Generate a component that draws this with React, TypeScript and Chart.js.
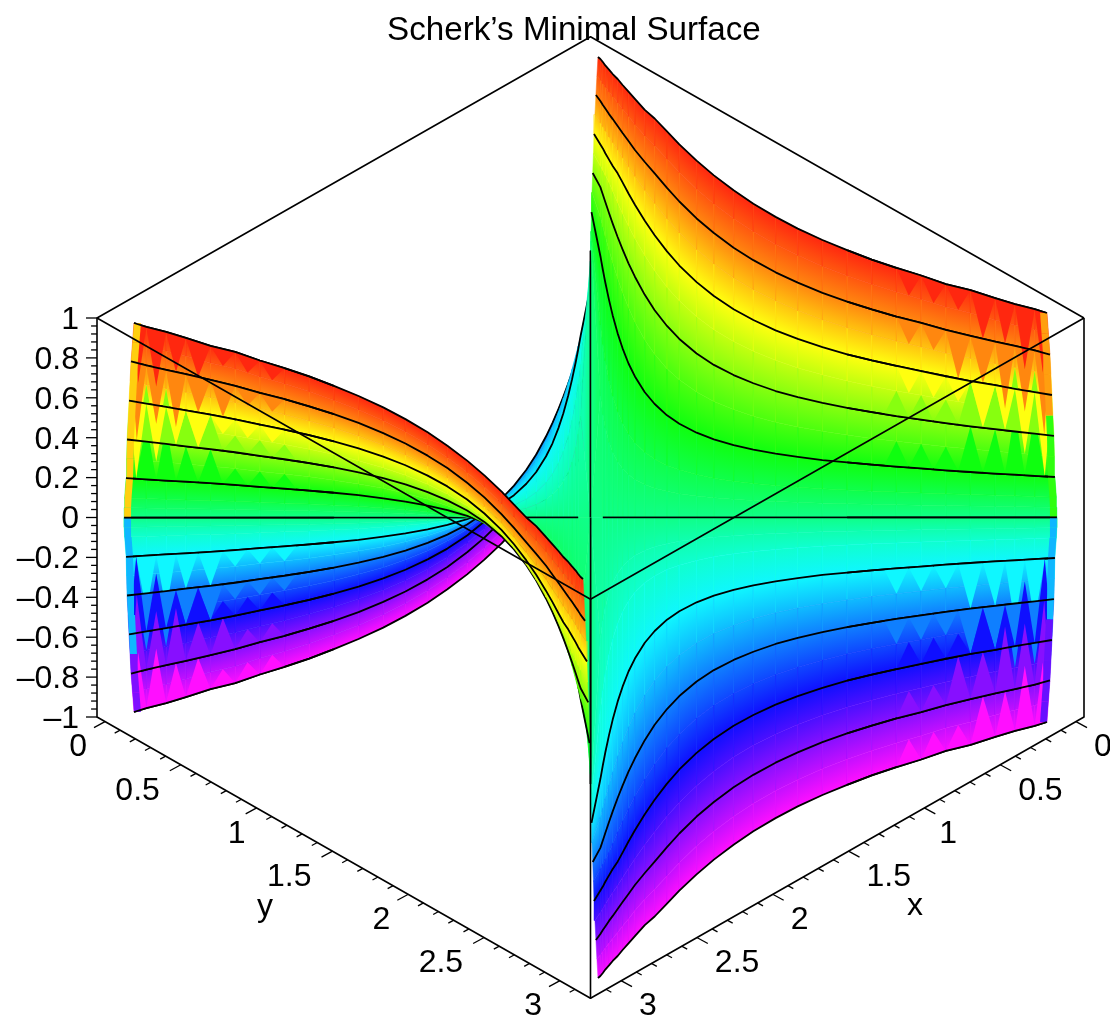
import { useEffect, useRef } from 'react';
import { Chart, registerables } from 'chart.js';

Chart.register(...registerables);

// ---- data -----------------------------------------------------------------
// Contour heights of the surface (|z|), finest near the z = 0 plane.
const levels = [0, 0.05, 0.1, 0.2, 0.3, 0.4, 0.5, 0.6, 0.7, 0.8, 0.9, 1];
const inkedLevels = [0, 0.2, 0.4, 0.6, 0.8, 1];
const upperHues = [150, 142.5, 135, 120, 105, 90, 75, 60, 45, 30, 18, 6];
const lowerHues = [150, 160, 168, 182, 197, 212, 226, 240, 255, 270, 285, 300];

// Horizontal stations on the plot (-1 .. 1 across the box).
const stationU = [0.02, 0.025, 0.03, 0.0375, 0.045, 0.055, 0.065, 0.077, 0.09, 0.11, 0.13, 0.155, 0.18, 0.215, 0.25, 0.29, 0.33, 0.375, 0.42, 0.47, 0.52, 0.57, 0.62, 0.67, 0.72, 0.77, 0.82, 0.86, 0.9];

// Depth of each contour at each station (z-axis units of vertical screen shift).
const depth000 = [0, 0, 0, 0, 0, 0, 0, 0, 0, 0, 0, 0, 0, 0, 0, 0, 0, 0, 0, 0, 0, 0, 0, 0, 0, 0, 0, 0, 0];
const depth005 = [0.559, 0.468, 0.401, 0.328, 0.277, 0.229, 0.195, 0.165, 0.141, 0.115, 0.097, 0.081, 0.069, 0.058, 0.049, 0.041, 0.035, 0.03, 0.026, 0.022, 0.019, 0.016, 0.014, 0.012, 0.01, 0.008, 0.006, 0.005, 0.003];
const depth010 = [0.865, 0.768, 0.686, 0.587, 0.509, 0.431, 0.373, 0.319, 0.275, 0.227, 0.193, 0.161, 0.139, 0.115, 0.097, 0.082, 0.071, 0.061, 0.052, 0.044, 0.038, 0.032, 0.028, 0.023, 0.019, 0.015, 0.012, 0.009, 0.005];
const depth020 = [1.111, 1.042, 0.978, 0.891, 0.813, 0.723, 0.648, 0.572, 0.507, 0.428, 0.369, 0.312, 0.27, 0.225, 0.192, 0.163, 0.14, 0.12, 0.104, 0.088, 0.076, 0.065, 0.055, 0.046, 0.036, 0.028, 0.02, 0.015, 0.009];
const depth030 = [1.206, 1.157, 1.11, 1.041, 0.977, 0.898, 0.827, 0.751, 0.68, 0.59, 0.518, 0.446, 0.39, 0.329, 0.282, 0.241, 0.208, 0.178, 0.154, 0.132, 0.113, 0.096, 0.082, 0.069, 0.055, 0.043, 0.032, 0.023, 0.015];
const depth040 = [1.256, 1.219, 1.181, 1.126, 1.073, 1.006, 0.944, 0.874, 0.807, 0.716, 0.639, 0.56, 0.495, 0.422, 0.365, 0.314, 0.273, 0.234, 0.203, 0.174, 0.149, 0.128, 0.108, 0.091, 0.073, 0.057, 0.043, 0.031, 0.02];
const depth050 = [1.262, 1.24, 1.215, 1.18, 1.135, 1.078, 1.023, 0.961, 0.899, 0.813, 0.737, 0.654, 0.586, 0.506, 0.441, 0.382, 0.333, 0.288, 0.25, 0.215, 0.184, 0.158, 0.134, 0.113, 0.09, 0.072, 0.054, 0.038, 0.025];
const depth060 = [1.27, 1.25, 1.226, 1.194, 1.162, 1.125, 1.08, 1.024, 0.968, 0.887, 0.815, 0.734, 0.663, 0.58, 0.51, 0.444, 0.39, 0.338, 0.295, 0.254, 0.218, 0.187, 0.16, 0.134, 0.108, 0.084, 0.063, 0.045, 0.029];
const depth070 = [1.28, 1.26, 1.238, 1.208, 1.18, 1.144, 1.104, 1.06, 1.01, 0.94, 0.875, 0.798, 0.728, 0.644, 0.572, 0.501, 0.442, 0.386, 0.337, 0.291, 0.251, 0.216, 0.184, 0.155, 0.124, 0.098, 0.072, 0.053, 0.034];
const depth080 = [1.288, 1.268, 1.25, 1.222, 1.197, 1.162, 1.127, 1.087, 1.042, 0.982, 0.925, 0.852, 0.784, 0.699, 0.626, 0.552, 0.49, 0.429, 0.377, 0.326, 0.282, 0.243, 0.207, 0.175, 0.14, 0.11, 0.081, 0.06, 0.038];
const depth090 = [1.293, 1.276, 1.258, 1.234, 1.21, 1.18, 1.148, 1.112, 1.07, 1.014, 0.963, 0.897, 0.831, 0.747, 0.673, 0.599, 0.534, 0.47, 0.414, 0.36, 0.312, 0.269, 0.23, 0.194, 0.155, 0.125, 0.09, 0.065, 0.042];
const depth100 = [1.298, 1.283, 1.266, 1.245, 1.223, 1.198, 1.168, 1.135, 1.098, 1.043, 1.0, 0.935, 0.87, 0.789, 0.715, 0.64, 0.573, 0.507, 0.448, 0.391, 0.34, 0.293, 0.251, 0.213, 0.17, 0.14, 0.1, 0.07, 0.045];
const depthTable = [depth000, depth005, depth010, depth020, depth030, depth040, depth050, depth060, depth070, depth080, depth090, depth100];

// Ends of each contour: at the centre column and at the outer rim.
const centerRimU = [0, 0.0005, 0.001, 0.002, 0.003, 0.0045, 0.006, 0.0071, 0.009, 0.011, 0.013, 0.0152];
const centerRimDepth = [1.336, 1.335, 1.334, 1.331, 1.329, 1.327, 1.325, 1.322, 1.32, 1.318, 1.313, 1.308];
const outerRimU = [0.945, 0.945, 0.944, 0.941, 0.94, 0.939, 0.937, 0.935, 0.933, 0.931, 0.928, 0.925];
const outerRimDepth = [0, 0.001, 0.002, 0.003, 0.006, 0.009, 0.011, 0.014, 0.016, 0.017, 0.021, 0.025];

// Saw-tooth facets near the rim: the level a tooth grows from, and the level each of
// the outer mesh columns reaches (inner column first).
const toothBaseLevels = [3, 5, 7, 9, 11];
const toothReach3 = [4, 4, 4, 5, 5, 6, 6];
const toothReach5 = [6, 6, 6, 7, 7, 8, 8];
const toothReach7 = [6, 6, 6, 5, 5, 4, 3];
const toothReach9 = [8, 8, 7, 7, 6, 6, 5];
const toothReach11 = [10, 10, 10, 9, 9, 8, 8];
const toothReaches = [toothReach3, toothReach5, toothReach7, toothReach9, toothReach11];

// Hue of the narrow strip along each rim, one value per band between levels.
const rimHuesLeftUpper = [48, 48, 48, 48, 48, 48, 48, 48, 48, 48, 48];
const rimHuesRightUpper = [112, 112, 112, 112, 112, 112, 36, 36, 36, 36, 36];
const rimHuesLeftLower = [198, 198, 198, 198, 198, 198, 198, 198, 268, 268, 268];
const rimHuesRightLower = [198, 198, 198, 198, 198, 198, 262, 262, 262, 262, 262];

// Box: [u, v] corners of the edges behind and in front of the surface.
const backEdges = [[[-1, 1], [0, 2.41], [1, 1]]];
const frontEdges = [
  [[-1, 1], [-1, -1], [0, -2.41], [1, -1], [1, 1]],
  [[-1, 1], [0, -0.41], [1, 1]],
  [[0, -0.41], [0, -2.41]],
];

const zTickLabels = [1, 0.8, 0.6, 0.4, 0.2, 0, -0.2, -0.4, -0.6, -0.8, -1];
const zMinorTicks = [
  0.96, 0.92, 0.88, 0.84, 0.76, 0.72, 0.68, 0.64, 0.56, 0.52, 0.48, 0.44, 0.36, 0.32, 0.28, 0.24, 0.16, 0.12, 0.08, 0.04,
  -0.04, -0.08, -0.12, -0.16, -0.24, -0.28, -0.32, -0.36, -0.44, -0.48, -0.52, -0.56, -0.64, -0.68, -0.72, -0.76, -0.84, -0.88, -0.92, -0.96,
];
const groundMajorTicks = [0, 0.5, 1, 1.5, 2, 2.5, 3];
const groundMinorTicks = [0.1, 0.2, 0.3, 0.4, 0.6, 0.7, 0.8, 0.9, 1.1, 1.2, 1.3, 1.4, 1.6, 1.7, 1.8, 1.9, 2.1, 2.2, 2.3, 2.4, 2.6, 2.7, 2.8, 2.9, 3.1];
const groundTickLabels = ['0', '0.5', '1', '1.5', '2', '2.5', '3'];

const titleText = 'Scherk\u2019s Minimal Surface';

// ---- geometry of the view --------------------------------------------------
const W = 1110;
const H = 1021;
const CX = 590.5;
const UNIT_U = 493.5;
const CY = 517.5;
const UNIT_V = 199.5;
const FONT = '"Liberation Sans", Arial, sans-serif';
const FIRST_TOOTH_COLUMN = 23;
const RIM_STRIP_WIDTH = 0.014;
const ZERO_LINE_WIDTH = 1.5;

type Pt = { x: number; y: number };
type Sheet = { mirror: number; zSign: number; depthSign: number; hues: number[]; rimHues: number[]; ascending: boolean };

const sheetsInPaintOrder: Sheet[] = [
  { mirror: -1, zSign: -1, depthSign: 1, hues: lowerHues, rimHues: rimHuesLeftLower, ascending: false },
  { mirror: 1, zSign: 1, depthSign: 1, hues: upperHues, rimHues: rimHuesRightUpper, ascending: true },
  { mirror: 1, zSign: -1, depthSign: -1, hues: lowerHues, rimHues: rimHuesRightLower, ascending: true },
  { mirror: -1, zSign: 1, depthSign: -1, hues: upperHues, rimHues: rimHuesLeftUpper, ascending: true },
];

function meshPoint(s: Sheet, k: number, j: number): Pt {
  let u: number;
  let d: number;
  if (j === 0) {
    u = centerRimU[k];
    d = centerRimDepth[k];
  } else if (j === stationU.length + 1) {
    u = outerRimU[k];
    d = outerRimDepth[k];
  } else {
    u = k === 0 && j === 1 ? 0 : stationU[j - 1];
    d = depthTable[k][j - 1];
  }
  return { x: s.mirror * u, y: s.zSign * levels[k] + s.depthSign * d };
}

const midPoint = (p: Pt, q: Pt): Pt => ({ x: (p.x + q.x) / 2, y: (p.y + q.y) / 2 });
const meshMid = (s: Sheet, k: number, j: number) => midPoint(meshPoint(s, k, j), meshPoint(s, k, j + 1));

const hsl = (h: number) => `hsl(${h}, 100%, 53%)`;

// Gradient end points only: the canvas is a fixed size, and the gradient is a fill style.
const toPixel = (p: Pt) => ({ x: CX + UNIT_U * p.x, y: CY - UNIT_V * p.y });

function bandDataset(s: Sheet, k: number, j: number) {
  const a = meshPoint(s, k, j);
  const b = meshPoint(s, k, j + 1);
  const c = meshPoint(s, k + 1, j + 1);
  const d = meshPoint(s, k + 1, j);
  const lo = hsl(s.hues[k]);
  const hi = hsl(s.hues[k + 1]);
  return {
    data: [a, b, c, d, a],
    showLine: true,
    fill: 'shape',
    pointRadius: 0,
    tension: 0,
    clip: false,
    borderWidth: 0.5,
    borderJoinStyle: 'round',
    borderColor: hsl((s.hues[k] + s.hues[k + 1]) / 2),
    backgroundColor: (ctx: any) => {
      const A = toPixel(a);
      const B = toPixel(b);
      const C = toPixel(c);
      const D = toPixel(d);
      const m0 = { x: (A.x + B.x) / 2, y: (A.y + B.y) / 2 };
      const m1 = { x: (C.x + D.x) / 2, y: (C.y + D.y) / 2 };
      let tx = B.x - A.x + C.x - D.x;
      let ty = B.y - A.y + C.y - D.y;
      const len = Math.hypot(tx, ty) || 1;
      tx /= len;
      ty /= len;
      const nx = -ty;
      const ny = tx;
      const proj = (m1.x - m0.x) * nx + (m1.y - m0.y) * ny;
      const end = Math.abs(proj) < 0.5 ? m1 : { x: m0.x + nx * proj, y: m0.y + ny * proj };
      const g = ctx.chart.ctx.createLinearGradient(m0.x, m0.y, end.x, end.y);
      g.addColorStop(0, lo);
      g.addColorStop(1, hi);
      return g;
    },
  };
}

function facetDataset(points: Pt[], hue: number) {
  return {
    data: [...points, points[0]],
    showLine: true,
    fill: 'shape',
    pointRadius: 0,
    tension: 0,
    clip: false,
    borderWidth: 0,
    borderColor: 'transparent',
    backgroundColor: hsl(hue),
  };
}

function rimFacets(s: Sheet) {
  const out: any[] = [];
  toothBaseLevels.forEach((base, tier) => {
    toothReaches[tier].forEach((tip, i) => {
      const j = FIRST_TOOTH_COLUMN + i;
      if (tip > base) {
        // a tooth growing away from the z = 0 plane, offset by half a column
        if (j + 1 <= stationU.length + 1) {
          out.push(facetDataset([meshMid(s, base, j - 1), meshMid(s, base, j), meshPoint(s, tip, j)], s.hues[base]));
        }
      } else {
        out.push(facetDataset([meshPoint(s, base, j), meshPoint(s, base, j + 1), meshMid(s, tip, j)], s.hues[base]));
      }
    });
  });
  const rim = stationU.length + 1;
  for (let k = 0; k < levels.length - 1; k++) {
    const p = meshPoint(s, k, rim);
    const q = meshPoint(s, k + 1, rim);
    const inward = -s.mirror * RIM_STRIP_WIDTH;
    out.push(
      facetDataset([p, q, { x: q.x + inward, y: q.y }, { x: p.x + inward, y: p.y }], s.rimHues[k]),
    );
  }
  return out;
}

function inkDataset(points: Pt[], width = 1.8, color = '#000') {
  return {
    data: points,
    showLine: true,
    fill: false,
    pointRadius: 0,
    tension: 0,
    clip: false,
    borderWidth: width,
    borderColor: color,
    borderJoinStyle: 'round',
    borderCapStyle: 'butt',
  };
}

function contourRow(s: Sheet, k: number) {
  const row: Pt[] = [];
  for (let j = 0; j < stationU.length + 2; j++) row.push(meshPoint(s, k, j));
  return row;
}

function contourDatasets(s: Sheet, k: number) {
  if (!inkedLevels.includes(levels[k])) return [];
  const row = contourRow(s, k);
  if (k === 0) return [inkDataset(row.slice(0, 2), ZERO_LINE_WIDTH), inkDataset(row.slice(2), ZERO_LINE_WIDTH)];
  return [inkDataset(row)];
}

function sheetDatasets(s: Sheet) {
  const out: any[] = [];
  const cols = stationU.length + 1;
  const last = levels.length - 1;
  if (s.ascending) {
    for (let k = 0; k < last; k++) {
      for (let j = 0; j < cols; j++) out.push(bandDataset(s, k, j));
      out.push(...contourDatasets(s, k));
    }
    out.push(...contourDatasets(s, last));
  } else {
    for (let k = last - 1; k >= 0; k--) {
      for (let j = 0; j < cols; j++) out.push(bandDataset(s, k, j));
      out.push(...contourDatasets(s, k + 1));
    }
    out.push(...contourDatasets(s, 0));
  }
  out.push(...rimFacets(s));
  levels.forEach((z, k) => {
    if (inkedLevels.includes(z)) {
      out.push(inkDataset(contourRow(s, k).slice(FIRST_TOOTH_COLUMN - 2), k === 0 ? ZERO_LINE_WIDTH : 1.8));
    }
  });
  return out;
}

// Position of a tick value on the two ground axes (side -1 = y axis, +1 = x axis).
const groundU = (t: number, side: number) => side * (0.98379 - 0.30733 * t);
const groundV = (u: number) => -1 - 1.4085 * (1 - Math.abs(u));

function tickDatasets() {
  const out: any[] = [];
  const ground = (t: number, side: number, scale: number) => {
    const u = groundU(t, side);
    const v = groundV(u);
    out.push(inkDataset([{ x: u, y: v }, { x: u + side * 0.0223 * scale, y: v - 0.0301 * scale }], 1.3));
  };
  for (const side of [-1, 1]) {
    groundMajorTicks.forEach((t) => ground(t, side, 1));
    groundMinorTicks.forEach((t) => ground(t, side, 0.5));
  }
  zTickLabels.forEach((z) => out.push(inkDataset([{ x: -1, y: z }, { x: -1.0223, y: z }], 1.3)));
  zMinorTicks.forEach((z) => out.push(inkDataset([{ x: -1, y: z }, { x: -1.012, y: z }], 1.3)));
  return out;
}

const edgesToDatasets = (edges: number[][][]) =>
  edges.map((e) => inkDataset(e.map(([x, y]) => ({ x, y })), 1.6));

const textPlugin = {
  id: 'plotText',
  afterDraw(chart: any) {
    const { ctx, scales } = chart;
    ctx.save();
    ctx.fillStyle = '#000';
    ctx.font = `33.2px ${FONT}`;
    ctx.textAlign = 'left';
    ctx.textBaseline = 'alphabetic';
    ctx.fillText(titleText, 387, 40);
    ctx.font = `32px ${FONT}`;
    ctx.textBaseline = 'middle';
    groundMajorTicks.forEach((t, i) => {
      const text = groundTickLabels[i];
      for (const side of [-1, 1]) {
        const u = groundU(t, side);
        const px = scales.x.getPixelForValue(u);
        const py = scales.y.getPixelForValue(groundV(u));
        ctx.textAlign = side < 0 ? 'right' : 'left';
        let gap = 18;
        if (side < 0 && text === '1') gap = 11;
        else if (side < 0 && text.length > 1) gap = 21;
        else if (side > 0 && text === '1') gap = 15;
        ctx.fillText(text, px + side * gap, py + 26);
      }
    });
    ctx.textAlign = 'center';
    ctx.fillText('y', 265, 907);
    ctx.fillText('x', 915, 906);
    ctx.restore();
  },
};

export default function App() {
  const ref = useRef<HTMLCanvasElement>(null);
  useEffect(() => {
    const painted: any[] = [
      ...edgesToDatasets(backEdges),
      ...sheetsInPaintOrder.flatMap(sheetDatasets),
      ...edgesToDatasets(frontEdges),
      ...tickDatasets(),
    ];
    const chart = new Chart(ref.current as HTMLCanvasElement, {
      type: 'scatter',
      // Chart.js paints the first dataset last, so the paint order is reversed here.
      data: { datasets: painted.reverse() },
      options: {
        animation: false,
        responsive: false,
        events: [],
        layout: { padding: 0 },
        plugins: { legend: { display: false }, tooltip: { enabled: false }, title: { display: false } },
        scales: {
          x: { type: 'linear', display: false, min: -CX / UNIT_U, max: (W - CX) / UNIT_U },
          y: {
            type: 'linear',
            min: (CY - H) / UNIT_V,
            max: CY / UNIT_V,
            position: { x: (79 - CX) / UNIT_U },
            grid: { display: false },
            border: { display: false },
            afterBuildTicks: (axis: any) => {
              axis.ticks = zTickLabels.map((value) => ({ value }));
            },
            afterFit: (axis: any) => {
              axis.paddingTop = 0;
              axis.paddingBottom = 0;
            },
            ticks: {
              autoSkip: false,
              maxRotation: 0,
              color: '#000',
              padding: 0,
              labelOffset: 2,
              font: { family: FONT, size: 32 },
              callback: (v: any) => (v < 0 ? `\u2013${Math.abs(v)}` : `${v}`),
            },
          },
        },
      } as any,
      plugins: [textPlugin],
    } as any);
    return () => chart.destroy();
  }, []);
  return (
    <div style={{ position: 'absolute', left: 0, top: 0, width: W, height: H, background: '#fff' }}>
      <canvas ref={ref} width={W} height={H} style={{ display: 'block' }} />
    </div>
  );
}
